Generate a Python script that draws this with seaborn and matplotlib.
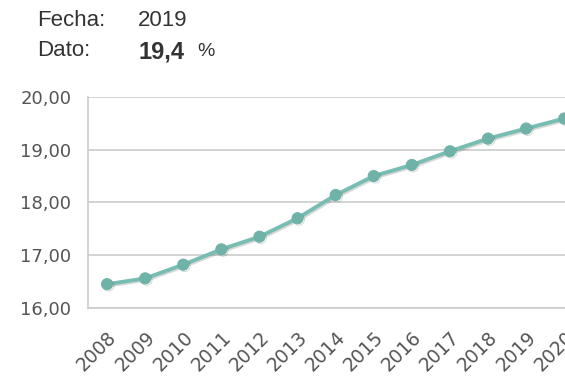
import matplotlib
matplotlib.use("Agg")
import matplotlib.pyplot as plt
import matplotlib.patheffects as pe
import numpy as np
import pandas as pd
import seaborn as sns

# data
years = ["2008", "2009", "2010", "2011", "2012", "2013", "2014",
         "2015", "2016", "2017", "2018", "2019", "2020"]
values = [16.45, 16.56, 16.82, 17.11, 17.35, 17.70, 18.14,
          18.50, 18.71, 18.97, 19.21, 19.40, 19.59]
yticks = [16, 17, 18, 19, 20]
header_fecha = "2019"
header_dato = "19,4"

df = pd.DataFrame({"year": years, "value": values})

sns.set_style("white")
plt.rcParams["font.family"] = ["DejaVu Sans"]

fig = plt.figure(figsize=(5.65, 3.83), dpi=100)
ax = fig.add_axes([0.1558, 0.196, 0.8442, 0.551])

line_col = "#78bdb2"
sns.lineplot(data=df, x="year", y="value", ax=ax, color=line_col,
             linewidth=2.8, marker="o", markersize=8,
             markerfacecolor="#6fb3a8", markeredgecolor="#6fb3a8",
             path_effects=[pe.SimpleLineShadow(offset=(1, -1), alpha=0.15), pe.Normal()])

ax.set_yticks(yticks)
ax.set_yticklabels([f"{v:.2f}".replace(".", ",") for v in yticks])
ax.yaxis.grid(True, color="#cccccc", linewidth=1.2)
ax.xaxis.grid(False)

ax.set_xticks(range(len(years)))
ax.set_xticklabels(years, rotation=45, ha="right", rotation_mode="anchor")
ax.set_xticks(np.arange(-0.5, 12.0, 1.0), minor=True)
ax.tick_params(axis="x", which="major", length=0, pad=14, labelsize=13.5, labelcolor="#555555")
ax.tick_params(axis="x", which="minor", length=5, width=1, color="#cccccc", direction="out")
ax.tick_params(axis="y", length=10, width=1.2, color="#cccccc", labelsize=13,
               labelcolor="#555555", pad=2)
# limits after ticks so set_xticks does not widen the view
ax.set_xlim(-0.5, 12.02)
ax.set_ylim(16, 20)

ax.set_xlabel("")
ax.set_ylabel("")
for s in ["top", "right"]:
    ax.spines[s].set_visible(False)
for s in ["left", "bottom"]:
    ax.spines[s].set_color("#cccccc")
    ax.spines[s].set_linewidth(1.2)

# header
hfont = ["Liberation Sans", "DejaVu Sans"]
fig.text(37 / 565, 1 - 21 / 383, "Fecha:", family=hfont, fontsize=16,
         color="#333333", va="center")
fig.text(138 / 565, 1 - 21 / 383, header_fecha, family=hfont, fontsize=16,
         color="#333333", va="center")
fig.text(37 / 565, 1 - 50 / 383, "Dato:", family=hfont, fontsize=16,
         color="#333333", va="center")
fig.text(138 / 565, 1 - 52 / 383, header_dato, family=hfont, fontsize=17,
         fontweight="bold", color="#333333", va="center")
fig.text(197 / 565, 1 - 52 / 383, "%", family=hfont, fontsize=14,
         color="#333333", va="center")

fig.savefig("out.png", dpi=100)
